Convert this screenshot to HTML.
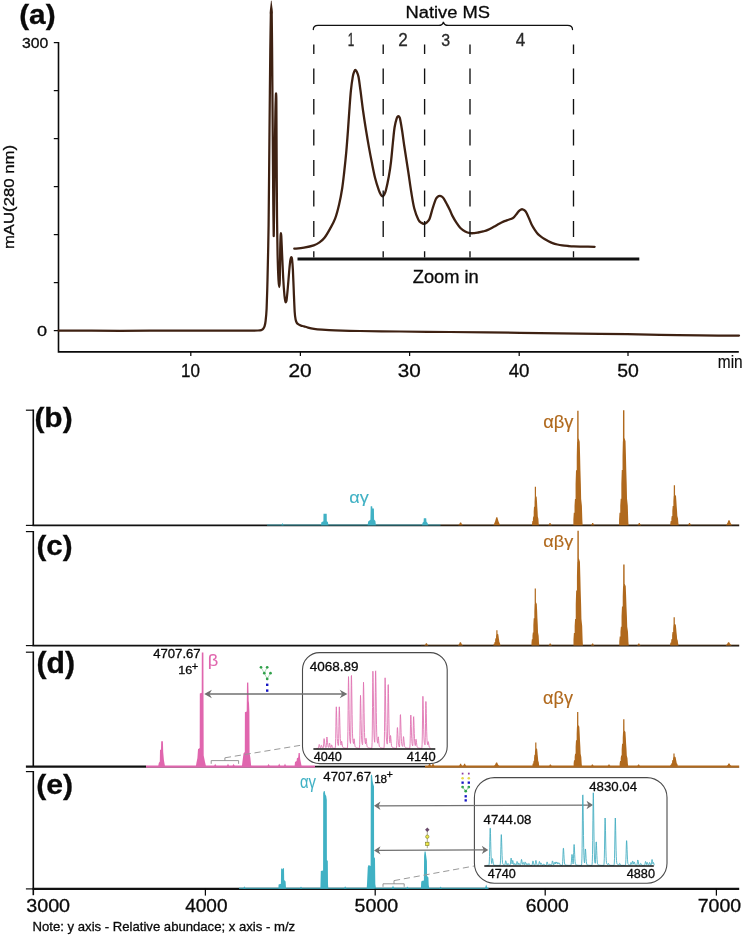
<!DOCTYPE html>
<html lang="en"><head><meta charset="utf-8"><title>Native MS figure</title>
<style>html,body{margin:0;padding:0;background:#fff}svg{display:block}text{font-family:'Liberation Sans', Arial, Helvetica, sans-serif}</style></head><body>
<svg width="742" height="935" viewBox="0 0 742 935">
<rect width="742" height="935" fill="#fff"/>
<g id="panel-a">
<path d="M58.5 42.0V351.9H738.8" fill="none" stroke="#0a0a0a" stroke-width="1.6"/>
<line x1="53.8" y1="42.6" x2="58.5" y2="42.6" stroke="#0a0a0a" stroke-width="1.25"/>
<line x1="53.8" y1="90.6" x2="58.5" y2="90.6" stroke="#0a0a0a" stroke-width="1.25"/>
<line x1="53.8" y1="138.6" x2="58.5" y2="138.6" stroke="#0a0a0a" stroke-width="1.25"/>
<line x1="53.8" y1="186.6" x2="58.5" y2="186.6" stroke="#0a0a0a" stroke-width="1.25"/>
<line x1="53.8" y1="234.6" x2="58.5" y2="234.6" stroke="#0a0a0a" stroke-width="1.25"/>
<line x1="53.8" y1="282.6" x2="58.5" y2="282.6" stroke="#0a0a0a" stroke-width="1.25"/>
<line x1="53.8" y1="330.6" x2="58.5" y2="330.6" stroke="#0a0a0a" stroke-width="1.25"/>
<line x1="190.8" y1="351.9" x2="190.8" y2="356" stroke="#0a0a0a" stroke-width="1.25"/>
<line x1="300.4" y1="351.9" x2="300.4" y2="356" stroke="#0a0a0a" stroke-width="1.25"/>
<line x1="409.6" y1="351.9" x2="409.6" y2="356" stroke="#0a0a0a" stroke-width="1.25"/>
<line x1="519.2" y1="351.9" x2="519.2" y2="356" stroke="#0a0a0a" stroke-width="1.25"/>
<line x1="628" y1="351.9" x2="628" y2="356" stroke="#0a0a0a" stroke-width="1.25"/>
<text font-size="15.07" fill="#0a0a0a" stroke="#0a0a0a" stroke-width="0.3" transform="translate(21.97 48.05) scale(1.0475 1)">300</text>
<text font-size="15.49" fill="#0a0a0a" stroke="#0a0a0a" stroke-width="0.3" transform="translate(36.98 336.15) scale(1.1699 1)">0</text>
<text font-size="18.31" fill="#0a0a0a" stroke="#0a0a0a" stroke-width="0.3" transform="translate(181.03 377.02) scale(0.9285 1)">10</text>
<text font-size="18.31" fill="#0a0a0a" stroke="#0a0a0a" stroke-width="0.3" transform="translate(288.46 377.02) scale(1.1403 1)">20</text>
<text font-size="18.31" fill="#0a0a0a" stroke="#0a0a0a" stroke-width="0.3" transform="translate(397.87 377.02) scale(1.1292 1)">30</text>
<text font-size="18.31" fill="#0a0a0a" stroke="#0a0a0a" stroke-width="0.3" transform="translate(508.63 377.02) scale(1.0198 1)">40</text>
<text font-size="18.31" fill="#0a0a0a" stroke="#0a0a0a" stroke-width="0.3" transform="translate(617.22 377.02) scale(1.0606 1)">50</text>
<text font-size="17.93" fill="#0a0a0a" stroke="#0a0a0a" stroke-width="0.15" transform="translate(717.79 368.2) scale(0.8629 1)">min</text>
<text font-size="14.87" fill="#0a0a0a" stroke="#0a0a0a" stroke-width="0.3" transform="rotate(-90) translate(-249.09 13.58) scale(1.1257 1)">mAU(280 nm)</text>
<text font-size="27.59" fill="#0a0a0a" stroke="#0a0a0a" stroke-width="0.3" font-weight="bold" transform="translate(19.21 23.61) scale(1.0792 1)">(a)</text>
<clipPath id="cut"><rect x="0" y="13" width="742" height="400"/></clipPath>
<path d="M58.6 330.6 C65.76 330.62 105.84 330.8 120 330.8 C134.16 330.8 166 330.61 180 330.6 C194 330.59 230.9 330.71 240 330.7 C249.1 330.69 255.49 330.58 258 330.5 C260.51 330.42 260.89 330.2 261.5 330 C262.11 329.8 262.84 329.24 263.2 328.8 C263.56 328.36 264.32 327.11 264.6 326.2 C264.88 325.29 265.37 323.01 265.6 321 C265.83 318.99 266.38 313.78 266.6 309 C266.82 304.22 267.27 289.8 267.5 280 C267.73 270.2 268.37 242.5 268.6 225 C268.83 207.5 269.3 150.42 269.5 130 C269.7 109.58 270.12 64.47 270.3 50 C270.48 35.53 270.88 11.66 271 6 C271.12 0.34 271.23 1.5 271.3 1.5 C271.37 1.5 271.51 0.34 271.6 6 C271.69 11.66 271.97 35.53 272.1 50 C272.23 64.47 272.56 111.92 272.7 130 C272.84 148.08 273.18 192.63 273.3 205 C273.42 217.37 273.61 235.42 273.7 236 C273.79 236.58 273.98 218.87 274.1 210 C274.22 201.13 274.55 171.43 274.7 160 C274.85 148.57 275.26 119.58 275.4 112 C275.54 104.42 275.82 97.1 275.9 95 C275.98 92.9 276.05 93.42 276.1 94 C276.15 94.58 276.29 93.47 276.35 100 C276.41 106.53 276.52 136.58 276.6 150 C276.68 163.42 276.88 202.75 277 215 C277.12 227.25 277.43 247.42 277.6 255 C277.78 262.58 278.3 276.27 278.5 280 C278.7 283.73 279.15 287 279.3 287 C279.45 287 279.69 284.32 279.8 280 C279.91 275.68 280.11 255.13 280.2 250 C280.29 244.87 280.52 237.98 280.6 236 C280.68 234.02 280.82 233 280.9 233 C280.98 233 281.17 233.78 281.3 236 C281.43 238.22 281.78 247.1 282 252 C282.22 256.9 282.91 272.87 283.2 278 C283.49 283.13 284.24 293.25 284.5 296 C284.76 298.75 285.24 300.88 285.4 301.6 C285.56 302.32 285.76 302.39 285.9 302.2 C286.04 302.01 286.38 301.66 286.6 300 C286.82 298.34 287.5 291.38 287.8 288 C288.1 284.62 288.91 274.21 289.2 271 C289.49 267.79 290.09 262.06 290.3 260.5 C290.51 258.94 290.86 257.96 291 257.6 C291.14 257.24 291.37 257.18 291.5 257.4 C291.63 257.62 291.94 258.03 292.1 259.5 C292.26 260.97 292.7 266.21 292.9 270 C293.1 273.79 293.59 287.1 293.8 292 C294.01 296.9 294.49 308.79 294.7 312 C294.91 315.21 295.36 318.24 295.6 319.5 C295.85 320.76 296.46 322.23 296.8 322.8 C297.14 323.37 298.01 324.07 298.5 324.4 C298.99 324.73 300.36 325.38 301 325.6 C301.64 325.82 303.18 326.07 304 326.3 C304.82 326.53 306.83 327.31 308 327.6 C309.17 327.89 312.37 328.57 314 328.8 C315.63 329.03 319.55 329.41 322 329.6 C324.45 329.79 330.57 330.24 335 330.4 C339.43 330.56 352.42 330.87 360 331 C367.58 331.13 389.5 331.38 400 331.5 C410.5 331.62 436 331.85 450 332 C464 332.15 502.5 332.59 520 332.8 C537.5 333.01 583.67 333.57 600 333.8 C616.33 334.03 648.33 334.61 660 334.8 C671.67 334.99 690.78 335.31 700 335.4 C709.22 335.49 734.45 335.58 739 335.6" fill="none" stroke="#3e2112" stroke-width="2.25" stroke-linejoin="round" stroke-linecap="round" clip-path="url(#cut)"/>
<polygon points="269.6,13.2 270,9 271,1.2 271.3,0.2 271.6,1.2 272.6,9 273,13.2" fill="#3e2112"/>
<path d="M294.3 248.7 C295.92 248.52 300.77 248.15 304 247.6 C307.23 247.05 311.12 246.27 313.7 245.4 C316.28 244.53 317.7 243.67 319.5 242.4 C321.3 241.13 322.75 240.05 324.5 237.8 C326.25 235.55 328.23 232.08 330 228.9 C331.77 225.72 333.58 222.77 335.1 218.7 C336.62 214.63 337.92 209.58 339.1 204.5 C340.28 199.42 341.35 193.62 342.2 188.2 C343.05 182.78 343.52 178.1 344.2 172 C344.88 165.9 345.68 158.38 346.3 151.6 C346.92 144.82 347.4 138.07 347.9 131.3 C348.4 124.53 348.8 117.77 349.3 111 C349.8 104.23 350.32 96.43 350.9 90.7 C351.48 84.97 352.25 79.78 352.8 76.6 C353.35 73.42 353.77 72.72 354.2 71.6 C354.63 70.48 354.97 69.87 355.4 69.9 C355.83 69.93 356.28 70.65 356.8 71.8 C357.32 72.95 357.88 73.65 358.5 76.8 C359.12 79.95 359.73 85 360.5 90.7 C361.27 96.4 362.15 104.23 363.1 111 C364.05 117.77 365.22 125.2 366.2 131.3 C367.18 137.4 368.08 142.52 369 147.6 C369.92 152.68 370.68 156.73 371.7 161.8 C372.72 166.87 373.92 173.27 375.1 178 C376.28 182.73 377.85 187.43 378.8 190.2 C379.75 192.97 380.2 193.58 380.8 194.6 C381.4 195.62 381.87 196.23 382.4 196.3 C382.93 196.37 383.42 196.02 384 195 C384.58 193.98 385.08 193.37 385.9 190.2 C386.72 187.03 388.05 180.73 388.9 176 C389.75 171.27 390.32 167.55 391 161.8 C391.68 156.05 392.4 147.27 393 141.5 C393.6 135.73 393.98 131.07 394.6 127.2 C395.22 123.33 396.12 120.12 396.7 118.3 C397.28 116.48 397.67 116.52 398.1 116.3 C398.53 116.08 398.97 116.53 399.3 117 C399.63 117.47 399.62 116.72 400.1 119.1 C400.58 121.48 401.52 126.9 402.2 131.3 C402.88 135.7 403.18 138.72 404.2 145.5 C405.22 152.28 407.12 164.2 408.3 172 C409.48 179.8 410.3 186.22 411.3 192.3 C412.3 198.38 413.12 203.93 414.3 208.5 C415.48 213.07 417.22 217.32 418.4 219.7 C419.58 222.08 420.45 222.12 421.4 222.8 C422.35 223.48 423.18 223.88 424.1 223.8 C425.02 223.72 425.98 223.15 426.9 222.3 C427.82 221.45 428.65 221 429.6 218.7 C430.55 216.4 431.58 211.72 432.6 208.5 C433.62 205.28 434.83 201.37 435.7 199.4 C436.57 197.43 437.12 197.28 437.8 196.7 C438.48 196.12 439.12 195.92 439.8 195.9 C440.48 195.88 441.23 196.15 441.9 196.6 C442.57 197.05 442.95 197.3 443.8 198.6 C444.65 199.9 445.95 202.4 447 204.4 C448.05 206.4 449.22 208.73 450.1 210.6 C450.98 212.47 451.25 213.6 452.3 215.6 C453.35 217.6 455.05 220.53 456.4 222.6 C457.75 224.67 458.93 226.52 460.4 228 C461.87 229.48 463.58 230.65 465.2 231.5 C466.82 232.35 468.57 232.83 470.1 233.1 C471.63 233.37 473.05 233.2 474.4 233.1 C475.75 233 476.73 232.78 478.2 232.5 C479.67 232.22 481.58 231.83 483.2 231.4 C484.82 230.97 486.13 230.67 487.9 229.9 C489.67 229.13 491.92 227.83 493.8 226.8 C495.68 225.77 497.6 224.57 499.2 223.7 C500.8 222.83 502.05 222.18 503.4 221.6 C504.75 221.02 506.07 220.63 507.3 220.2 C508.53 219.77 509.72 219.48 510.8 219 C511.88 218.52 512.87 218.1 513.8 217.3 C514.73 216.5 515.6 215.18 516.4 214.2 C517.2 213.22 517.9 212.15 518.6 211.4 C519.3 210.65 519.95 210.05 520.6 209.7 C521.25 209.35 521.83 209.18 522.5 209.3 C523.17 209.42 523.9 209.75 524.6 210.4 C525.3 211.05 525.93 211.8 526.7 213.2 C527.47 214.6 528.38 216.93 529.2 218.8 C530.02 220.67 530.67 222.57 531.6 224.4 C532.53 226.23 533.73 228.18 534.8 229.8 C535.87 231.42 536.92 232.93 538 234.1 C539.08 235.27 540.22 236 541.3 236.8 C542.38 237.6 543.3 238.17 544.5 238.9 C545.7 239.63 547.15 240.5 548.5 241.2 C549.85 241.9 551.12 242.55 552.6 243.1 C554.08 243.65 555.78 244.12 557.4 244.5 C559.02 244.88 560.53 245.15 562.3 245.4 C564.07 245.65 566.12 245.83 568 246 C569.88 246.17 570.93 246.3 573.6 246.4 C576.27 246.5 580.5 246.53 584 246.6 C587.5 246.67 592.83 246.77 594.6 246.8" fill="none" stroke="#3e2112" stroke-width="2.3" stroke-linejoin="round" stroke-linecap="round"/>
<line x1="297.5" y1="259" x2="639.3" y2="259" stroke="#111" stroke-width="3.2"/>
<path d="M313.8 44.5V54 M313.8 68.5V84 M313.8 99V114.5 M313.8 129.5V145.5 M313.8 160V176 M313.8 190.5V206.5 M313.8 221V237 M313.8 251.3V257.6" stroke="#111" stroke-width="1.35" fill="none"/>
<path d="M383.2 44.5V54 M383.2 68.5V84 M383.2 99V114.5 M383.2 129.5V145.5 M383.2 160V176 M383.2 190.5V206.5 M383.2 221V237 M383.2 251.3V257.6" stroke="#111" stroke-width="1.35" fill="none"/>
<path d="M424.6 44.5V54 M424.6 68.5V84 M424.6 99V114.5 M424.6 129.5V145.5 M424.6 160V176 M424.6 190.5V206.5 M424.6 221V237 M424.6 251.3V257.6" stroke="#111" stroke-width="1.35" fill="none"/>
<path d="M470 44.5V54 M470 68.5V84 M470 99V114.5 M470 129.5V145.5 M470 160V176 M470 190.5V206.5 M470 221V237 M470 251.3V257.6" stroke="#111" stroke-width="1.35" fill="none"/>
<path d="M573.5 44.5V54 M573.5 68.5V84 M573.5 99V114.5 M573.5 129.5V145.5 M573.5 160V176 M573.5 190.5V206.5 M573.5 221V237 M573.5 251.3V257.6" stroke="#111" stroke-width="1.35" fill="none"/>
<path d="M313.3 29.6C313.3 26.6 315 25.4 318 25.4H438.6C441.6 25.4 443 24.6 443.4 21.8C443.8 24.6 445.2 25.4 448.2 25.4H567.6C570.6 25.4 572.5 26.6 572.5 29.6" fill="none" stroke="#111" stroke-width="1.3" stroke-linecap="round"/>
<text font-size="16.46" fill="#0a0a0a" stroke="#0a0a0a" stroke-width="0.3" transform="translate(405.53 18.34) scale(1.1147 1)">Native MS</text>
<text font-size="17.55" fill="#0a0a0a" stroke="#0a0a0a" stroke-width="0.3" transform="translate(412.75 282.72) scale(1.0423 1)">Zoom in</text>
<text font-size="17.83" fill="#2a2a2a" stroke="#2a2a2a" stroke-width="0.3" transform="translate(347.72 45.7) scale(0.6577 1)">1</text>
<text font-size="17.57" fill="#2a2a2a" stroke="#2a2a2a" stroke-width="0.3" transform="translate(398.14 45.7) scale(0.9756 1)">2</text>
<text font-size="17.32" fill="#2a2a2a" stroke="#2a2a2a" stroke-width="0.3" transform="translate(441.16 45.53) scale(0.9236 1)">3</text>
<text font-size="17.83" fill="#2a2a2a" stroke="#2a2a2a" stroke-width="0.3" transform="translate(515.66 45.7) scale(0.9553 1)">4</text>
</g>
<g id="panel-b">
<path d="M25.9 410.2H33.6" fill="none" stroke="#0a0a0a" stroke-width="1.2"/>
<path d="M33.3 409.6V525.3" fill="none" stroke="#0a0a0a" stroke-width="1.6"/>
<line x1="25.9" y1="525.4" x2="33" y2="525.4" stroke="#111" stroke-width="1.2"/>
<line x1="32.5" y1="525.4" x2="739.2" y2="525.4" stroke="#111" stroke-width="1.8"/>
<rect x="267" y="524.2" width="173.6" height="1.65" fill="#40b1c4" opacity="0.5"/>
<rect x="440.6" y="524.2" width="298.6" height="1.65" fill="#b0691d" opacity="0.18"/>
<text font-size="28.56" fill="#0a0a0a" stroke="#0a0a0a" stroke-width="0.3" font-weight="bold" transform="translate(34.4 427.2) scale(1.0476 1)">(b)</text>
<polygon points="320.9,525.3 321.4,522.3 323.4,521.2 323.5,513.8 326.7,513.8 326.8,521.2 327.9,522 328.4,525.3" fill="#40b1c4"/>
<polygon points="367.6,525.3 368.2,521.6 370.4,519.8 370.7,506.2 372.2,506.2 372.4,508.4 373.9,508.6 374.1,519.6 375.4,521 375.9,525.3" fill="#40b1c4"/>
<polygon points="422,525.3 422.6,522.8 423.6,521.8 423.8,518.2 426.2,518.2 426.5,521.8 427.6,523 428.1,525.3" fill="#40b1c4"/>
<polygon points="281.4,525.3 282.6,523 283.6,525.3" fill="#40b1c4"/>
<text font-size="17.33" fill="#40b1c4" stroke="#40b1c4" stroke-width="0.1" transform="translate(349.17 502.76) scale(1.0479 1)">αγ</text>
<polygon points="458.4,525.3 459.5,523.85 460.05,522.4 461.15,522.4 461.7,523.85 462.8,525.3" fill="#b0691d"/>
<polygon points="493.5,525.3 495.15,521.25 496.25,517.2 497.35,517.2 498.45,521.25 500.1,525.3" fill="#b0691d"/>
<polygon points="531.51,525.3 532.05,525.3 532.05,523.38 532.36,521.06 532.91,521.06 532.91,518.75 533.22,516.44 533.69,516.44 533.69,511.44 534,506.82 534.54,506.82 534.54,502.2 534.78,497.19 534.8,497.19 534.8,496.04 534.8,486.8 536,486.8 536,496.04 536.72,497.19 537.04,502.2 537.27,506.82 537.58,511.44 537.81,516.44 538.36,518.75 538.52,521.06 538.67,523.38 538.91,525.3" fill="#b0691d"/>
<polygon points="572.64,525.3 573.37,525.3 573.37,519.57 573.79,512.7 574.53,512.7 574.53,505.83 574.95,498.96 575.58,498.96 575.58,484.08 576.01,470.34 576.74,470.34 576.74,456.6 577.06,441.71 577.16,441.71 577.16,438.28 577.22,410.8 578.58,410.8 578.64,438.28 579.69,441.71 580.11,456.6 580.43,470.34 580.85,484.08 581.16,498.96 581.9,505.83 582.11,512.7 582.32,519.57 582.64,525.3" fill="#b0691d"/>
<polygon points="618.33,525.3 619.08,525.3 619.08,519.54 619.51,512.64 620.26,512.64 620.26,505.73 620.69,498.83 621.34,498.83 621.34,483.86 621.77,470.05 622.52,470.05 622.52,456.24 622.84,441.28 622.95,441.28 622.95,437.82 623,410.2 624.4,410.2 624.45,437.82 625.53,441.28 625.95,456.24 626.28,470.05 626.71,483.86 627.03,498.83 627.78,505.73 627.99,512.64 628.21,519.54 628.53,525.3" fill="#b0691d"/>
<polygon points="669.66,525.3 670.33,525.3 670.33,523.29 670.71,520.89 671.37,520.89 671.37,518.48 671.75,516.08 672.32,516.08 672.32,510.86 672.69,506.05 673.36,506.05 673.36,501.24 673.64,496.03 673.74,496.03 673.74,494.82 673.78,485.2 675.02,485.2 675.06,494.82 676.01,496.03 676.39,501.24 676.67,506.05 677.05,510.86 677.34,516.08 678,518.48 678.19,520.89 678.38,523.29 678.66,525.3" fill="#b0691d"/>
<polygon points="726.1,525.3 727.55,522.8 728.45,520.3 729.55,520.3 730.45,522.8 731.9,525.3" fill="#b0691d"/>
<polygon points="590.9,525.3 591.8,524.2 592.15,523.1 593.25,523.1 593.6,524.2 594.5,525.3" fill="#b0691d"/>
<polygon points="637.5,525.3 638.4,524.2 638.75,523.1 639.85,523.1 640.2,524.2 641.1,525.3" fill="#b0691d"/>
<polygon points="548.2,525.3 549.1,524.2 549.45,523.1 550.55,523.1 550.9,524.2 551.8,525.3" fill="#b0691d"/>
<polygon points="687.7,525.3 688.6,524.2 688.95,523.1 690.05,523.1 690.4,524.2 691.3,525.3" fill="#b0691d"/>
<text font-size="17.54" fill="#b0691d" stroke="#b0691d" stroke-width="0.15" transform="translate(543.17 427.72) scale(1.0446 1)">αβγ</text>
</g>
<g id="panel-c">
<path d="M25.9 531.6H33.6" fill="none" stroke="#0a0a0a" stroke-width="1.2"/>
<path d="M33.3 531V645.5" fill="none" stroke="#0a0a0a" stroke-width="1.6"/>
<line x1="25.9" y1="645.6" x2="33" y2="645.6" stroke="#111" stroke-width="1.2"/>
<line x1="32.5" y1="645.6" x2="739.2" y2="645.6" stroke="#111" stroke-width="1.9"/>
<rect x="420.8" y="644.35" width="318.4" height="1.72" fill="#b0691d" opacity="0.18"/>
<text font-size="27.59" fill="#0a0a0a" stroke="#0a0a0a" stroke-width="0.3" font-weight="bold" transform="translate(36.52 555.41) scale(1.0695 1)">(c)</text>
<polygon points="424.4,645.5 425.4,644.4 425.85,643.3 426.95,643.3 427.4,644.4 428.4,645.5" fill="#b0691d"/>
<polygon points="457.9,645.5 459.15,643.9 459.85,642.3 460.95,642.3 461.65,643.9 462.9,645.5" fill="#b0691d"/>
<polygon points="492.9,645.5 493.46,645.5 493.46,644.74 493.78,643.82 494.34,643.82 494.34,642.9 494.66,641.98 495.14,641.98 495.14,639.99 495.46,638.16 496.02,638.16 496.02,636.32 496.26,634.33 496.3,634.33 496.3,633.87 496.3,630.2 497.5,630.2 497.5,633.87 498.26,634.33 498.58,636.32 498.82,638.16 499.14,639.99 499.38,641.98 499.94,642.9 500.1,643.82 500.26,644.74 500.5,645.5" fill="#b0691d"/>
<polygon points="530.88,645.5 531.5,645.5 531.5,642.65 531.85,639.24 532.47,639.24 532.47,635.83 532.82,632.41 533.35,632.41 533.35,625.02 533.71,618.19 534.33,618.19 534.33,611.36 534.59,603.96 534.68,603.96 534.68,602.26 534.7,588.6 535.9,588.6 535.92,602.26 536.8,603.96 537.16,611.36 537.42,618.19 537.78,625.02 538.04,632.41 538.66,635.83 538.84,639.24 539.01,642.65 539.28,645.5" fill="#b0691d"/>
<polygon points="572.73,645.5 573.48,645.5 573.48,639.76 573.91,632.88 574.66,632.88 574.66,626 575.09,619.12 575.74,619.12 575.74,604.21 576.17,590.44 576.92,590.44 576.92,576.68 577.24,561.77 577.35,561.77 577.35,558.33 577.4,530.8 578.8,530.8 578.85,558.33 579.93,561.77 580.35,576.68 580.68,590.44 581.11,604.21 581.43,619.12 582.18,626 582.39,632.88 582.61,639.76 582.93,645.5" fill="#b0691d"/>
<polygon points="618.53,645.5 619.28,645.5 619.28,641.44 619.71,636.58 620.46,636.58 620.46,631.71 620.89,626.85 621.54,626.85 621.54,616.3 621.97,606.57 622.72,606.57 622.72,596.84 623.04,586.3 623.15,586.3 623.15,583.86 623.2,564.4 624.6,564.4 624.65,583.86 625.73,586.3 626.15,596.84 626.48,606.57 626.91,616.3 627.23,626.85 627.98,631.71 628.19,636.58 628.41,641.44 628.73,645.5" fill="#b0691d"/>
<polygon points="669.46,645.5 670.13,645.5 670.13,644.09 670.51,642.39 671.17,642.39 671.17,640.69 671.55,638.99 672.12,638.99 672.12,635.31 672.49,631.92 673.16,631.92 673.16,628.52 673.44,624.84 673.54,624.84 673.54,623.99 673.58,617.2 674.82,617.2 674.86,623.99 675.81,624.84 676.19,628.52 676.47,631.92 676.85,635.31 677.14,638.99 677.8,640.69 677.99,642.39 678.18,644.09 678.46,645.5" fill="#b0691d"/>
<polygon points="725.6,645.5 727.1,643.9 728.05,642.3 729.15,642.3 730.1,643.9 731.6,645.5" fill="#b0691d"/>
<polygon points="548.5,645.5 549.35,644.5 549.65,643.5 550.75,643.5 551.05,644.5 551.9,645.5" fill="#b0691d"/>
<polygon points="590.9,645.5 591.75,644.5 592.05,643.5 593.15,643.5 593.45,644.5 594.3,645.5" fill="#b0691d"/>
<polygon points="637.1,645.5 637.95,644.5 638.25,643.5 639.35,643.5 639.65,644.5 640.5,645.5" fill="#b0691d"/>
<text font-size="17.33" fill="#b0691d" stroke="#b0691d" stroke-width="0.15" transform="translate(543.27 546.96) scale(1.0468 1)">αβγ</text>
</g>
<g id="panel-d">
<path d="M25.9 652.2H33.6" fill="none" stroke="#0a0a0a" stroke-width="1.2"/>
<path d="M33.3 651.6V766.2" fill="none" stroke="#0a0a0a" stroke-width="1.6"/>
<line x1="25.9" y1="766.6" x2="146" y2="766.6" stroke="#111" stroke-width="2.2"/>
<line x1="146" y1="766.6" x2="315" y2="766.6" stroke="#e066ae" stroke-width="2.2"/>
<rect x="146" y="767.1" width="169" height="0.6" fill="#000" opacity="0.3"/>
<line x1="315" y1="766.6" x2="425" y2="766.6" stroke="#111" stroke-width="1.8"/>
<line x1="425" y1="766.6" x2="739.2" y2="766.6" stroke="#b0691d" stroke-width="2.2"/>
<rect x="425" y="767.1" width="314.2" height="0.6" fill="#000" opacity="0.3"/>
<text font-size="28.66" fill="#0a0a0a" stroke="#0a0a0a" stroke-width="0.3" font-weight="bold" transform="translate(36.49 672.78) scale(1.0526 1)">(d)</text>
<polygon points="158.2,766.2 158.8,763 159.8,761.5 160,750 161,749.6 161.2,741.2 162.9,741.2 163.2,752 163.9,760 164.5,763.5 165,766.2" fill="#e066ae"/>
<polygon points="195.9,766.2 196.4,763 197.4,758 198,749.2 199.7,748 199.8,693.6 201.7,692.8 201.8,652.4 203.4,652.4 203.5,693 203.7,755.6 204.4,759 205,762 206,766.2" fill="#e066ae"/>
<polygon points="241.9,766.2 242.4,762 243.5,753.5 244.8,752 244.9,712.3 246.7,711.5 246.8,701 247,683 247.4,682.6 248.3,682.6 248.7,701 249,703 249.4,712 249.6,753 250.4,758 251.2,766.2" fill="#e066ae"/>
<polygon points="294.6,766.2 295,762 296.6,761 296.9,758.2 298.2,757.6 298.6,753 299.8,753 300.2,759 301,763 301.6,766.2" fill="#e066ae"/>
<polygon points="214,766.2 215.2,763.8 216.4,766.2" fill="#e066ae"/>
<polygon points="226.8,766.2 228,763.6 229.2,766.2" fill="#e066ae"/>
<polygon points="232.4,766.2 233.6,763.8 234.8,766.2" fill="#e066ae"/>
<polygon points="267.4,766.2 268.6,763.8 269.8,766.2" fill="#e066ae"/>
<polygon points="278,766.2 279.2,763.4 280.4,766.2" fill="#e066ae"/>
<polygon points="283.8,766.2 285,763.6 286.2,766.2" fill="#e066ae"/>
<text font-size="17.33" fill="#e066ae" stroke="#e066ae" stroke-width="0.1" transform="translate(207.72 666.36) scale(1.0550 1)">β</text>
<text font-size="12.11" fill="#0a0a0a" stroke="#0a0a0a" stroke-width="0.3" transform="translate(153.24 658.48) scale(1.0829 1)">4707.67</text>
<text font-size="11.55" fill="#0a0a0a" stroke="#0a0a0a" stroke-width="0.3" transform="translate(178.16 673.98) scale(1.0878 1)">16</text>
<text font-size="11.63" fill="#0a0a0a" stroke="#0a0a0a" stroke-width="0.3" transform="translate(191.74 669.65) scale(0.9571 1)">+</text>
<polygon points="427.9,766.2 428.75,765 429.05,763.8 430.15,763.8 430.45,765 431.3,766.2" fill="#b0691d"/>
<polygon points="431.3,766.2 432.15,765 432.45,763.8 433.55,763.8 433.85,765 434.7,766.2" fill="#b0691d"/>
<polygon points="458.9,766.2 459.75,765 460.05,763.8 461.15,763.8 461.45,765 462.3,766.2" fill="#b0691d"/>
<polygon points="462.9,766.2 463.75,765 464.05,763.8 465.15,763.8 465.45,765 466.3,766.2" fill="#b0691d"/>
<polygon points="493.8,766.2 495.2,764.4 496.05,762.6 497.15,762.6 498,764.4 499.4,766.2" fill="#b0691d"/>
<polygon points="531.91,766.2 532.45,766.2 532.45,765.02 532.76,763.6 533.31,763.6 533.31,762.19 533.62,760.77 534.09,760.77 534.09,757.7 534.4,754.87 534.94,754.87 534.94,752.04 535.18,748.97 535.2,748.97 535.2,748.26 535.2,742.6 536.4,742.6 536.4,748.26 537.12,748.97 537.44,752.04 537.67,754.87 537.98,757.7 538.21,760.77 538.76,762.19 538.92,763.6 539.07,765.02 539.31,766.2" fill="#b0691d"/>
<polygon points="572.96,766.2 573.63,766.2 573.63,763.49 574.01,760.24 574.67,760.24 574.67,756.99 575.05,753.73 575.62,753.73 575.62,746.69 575.99,740.18 576.66,740.18 576.66,733.68 576.94,726.63 577.04,726.63 577.04,725.01 577.08,712 578.32,712 578.36,725.01 579.31,726.63 579.69,733.68 579.97,740.18 580.35,746.69 580.64,753.73 581.3,756.99 581.49,760.24 581.68,763.49 581.96,766.2" fill="#b0691d"/>
<polygon points="618.96,766.2 619.64,766.2 619.64,763.86 620.02,761.04 620.7,761.04 620.7,758.23 621.09,755.41 621.67,755.41 621.67,749.32 622.06,743.69 622.73,743.69 622.73,738.06 623.03,731.96 623.12,731.96 623.12,730.56 623.17,719.3 624.43,719.3 624.48,730.56 625.45,731.96 625.83,738.06 626.12,743.69 626.51,749.32 626.8,755.41 627.48,758.23 627.67,761.04 627.87,763.86 628.16,766.2" fill="#b0691d"/>
<polygon points="669.58,766.2 670.2,766.2 670.2,765.57 670.55,764.8 671.17,764.8 671.17,764.04 671.52,763.28 672.05,763.28 672.05,761.63 672.41,760.1 673.03,760.1 673.03,758.58 673.29,756.93 673.38,756.93 673.38,756.55 673.4,753.5 674.6,753.5 674.62,756.55 675.5,756.93 675.86,758.58 676.12,760.1 676.48,761.63 676.74,763.28 677.36,764.04 677.54,764.8 677.71,765.57 677.98,766.2" fill="#b0691d"/>
<polygon points="726.5,766.2 727.75,764.9 728.45,763.6 729.55,763.6 730.25,764.9 731.5,766.2" fill="#b0691d"/>
<polygon points="548.9,766.2 549.65,765.3 549.85,764.4 550.95,764.4 551.15,765.3 551.9,766.2" fill="#b0691d"/>
<polygon points="590.9,766.2 591.65,765.3 591.85,764.4 592.95,764.4 593.15,765.3 593.9,766.2" fill="#b0691d"/>
<polygon points="607.5,766.2 608.25,765.3 608.45,764.4 609.55,764.4 609.75,765.3 610.5,766.2" fill="#b0691d"/>
<polygon points="637.1,766.2 637.85,765.3 638.05,764.4 639.15,764.4 639.35,765.3 640.1,766.2" fill="#b0691d"/>
<text font-size="17.54" fill="#b0691d" stroke="#b0691d" stroke-width="0.15" transform="translate(543.08 703.62) scale(1.0305 1)">αβγ</text>
<path d="M211.2 763.8V760.6H238.6V763.8M224.9 760.6V757.8" fill="none" stroke="#8a8a8a" stroke-width="0.9"/>
<path d="M224.9 757.8L303 744.9" fill="none" stroke="#9a9a9a" stroke-width="1" stroke-dasharray="6.2 3.8"/>
<rect x="302.5" y="652.6" width="144.7" height="111" rx="17" ry="17" fill="none" stroke="#4a4a4a" stroke-width="1.1"/>
<line x1="208" y1="694" x2="343.5" y2="694" stroke="#707070" stroke-width="1.3"/>
<polygon points="204.2,694 211.9,689.8 209.4,694 211.9,698.2" fill="#707070"/>
<polygon points="347.4,694 339.7,689.8 342.2,694 339.7,698.2" fill="#707070"/>
<path d="M261 667.3L264.3 673.2L267.2 678.9M267.2 667.3L264.3 673.2M270.5 673.2L267.2 678.9" fill="none" stroke="#7cc48a" stroke-width="0.6"/>
<circle cx="261" cy="667.3" r="1.35" fill="#2fa04a"/>
<circle cx="267.2" cy="667.3" r="1.35" fill="#2fa04a"/>
<circle cx="264.3" cy="673.2" r="1.35" fill="#2fa04a"/>
<circle cx="270.5" cy="673.2" r="1.35" fill="#2fa04a"/>
<circle cx="267.2" cy="678.9" r="1.35" fill="#2fa04a"/>
<rect x="266" y="683.6" width="2.4" height="2.4" fill="#1616c4"/>
<rect x="266" y="689.4" width="2.4" height="2.4" fill="#1616c4"/>
</g>
<g id="inset-d">
<polyline points="316.5,748.4 316.5,748.4 316.7,748.4 316.9,748.4 317.1,748.4 317.3,748.4 317.5,748.4 317.7,748.4 317.9,748.4 318.1,748.37 318.3,748.24 318.5,747.84 318.7,746.93 318.9,745.61 319.1,744.56 319.3,744.52 319.5,745.05 319.7,745.82 319.9,746.6 320.1,747.22 320.3,747.62 320.5,747.86 320.7,747.95 320.9,747.22 321.1,746.17 321.3,745.33 321.5,745.29 321.7,745.72 321.9,746.34 322.1,746.96 322.3,747.45 322.5,747.78 322.7,747.97 322.9,748.07 323.1,748.13 323.3,747.64 323.5,746.08 323.7,743.23 323.9,740.05 324.1,738.6 324.3,739.43 324.5,741.1 324.7,743.06 324.9,744.81 325.1,746.06 325.3,746.83 325.5,747.25 325.7,747.48 325.9,747.62 326.1,747.52 326.3,745.7 326.5,742.39 326.7,738.69 326.9,737 327.1,737.96 327.3,739.91 327.5,742.19 327.7,744.22 327.9,745.68 328.1,746.57 328.3,747.06 328.5,747.33 328.7,747.5 328.9,747.12 329.1,745.55 329.3,743.8 329.5,743 329.7,743.46 329.9,744.38 330.1,745.46 330.3,746.42 330.5,747.11 330.7,747.53 330.9,747.77 331.1,747.08 331.3,745.89 331.5,744.94 331.7,744.9 331.9,745.38 332.1,746.08 332.3,746.78 332.5,747.33 332.7,747.7 332.9,747.91 333.1,748.03 333.3,748.09 333.5,748.13 333.7,748.17 333.9,748.19 334.1,748.22 334.3,748.24 334.5,748.26 334.7,748.28 334.9,748.29 335.1,748.27 335.3,747.64 335.5,745.18 335.7,738.54 335.9,726.46 336.1,712.95 336.3,706.8 336.5,710.32 336.7,717.4 336.9,725.75 337.1,733.15 337.3,738.46 337.5,741.72 337.7,743.52 337.9,744.5 338.1,745.1 338.3,745.53 338.5,745.18 338.7,738.54 338.9,726.46 339.1,712.95 339.3,706.8 339.5,710.32 339.7,717.4 339.9,725.75 340.1,733.15 340.3,738.46 340.5,741.72 340.7,743.52 340.9,744.5 341.1,745.1 341.3,743.24 341.5,741.29 341.7,741.22 341.9,742.2 342.1,743.63 342.3,745.07 342.5,746.21 342.7,746.96 342.9,747.35 343.1,747.47 343.3,747.58 343.5,747.68 343.7,747.76 343.9,747.84 344.1,747.9 344.3,747.96 344.5,748.01 344.7,748.06 344.9,748.1 345.1,748.13 345.3,748.17 345.5,748.19 345.7,748.22 345.9,748.24 346.1,748.26 346.3,748.27 346.5,748.29 346.7,748.3 346.9,748.31 347.1,748.32 347.3,748.17 347.5,747.08 347.7,742.85 347.9,731.39 348.1,710.54 348.3,687.22 348.5,676.6 348.7,682.68 348.9,694.9 349.1,709.31 349.3,722.07 349.5,731.25 349.7,736.87 349.9,739.97 350.1,741.67 350.3,742.7 350.5,743.44 350.7,737.82 350.9,720.77 351.1,696 351.3,676.24 351.5,675.48 351.7,685.48 351.9,699.98 352.1,714.58 352.3,726.17 352.5,733.81 352.7,738.21 352.9,740.6 353.1,741.95 353.3,742.85 353.5,743.54 353.7,741.49 353.9,738.89 354.1,738.79 354.3,740.11 354.5,742.02 354.7,743.94 354.9,745.47 355.1,746.48 355.3,746.83 355.5,747.01 355.7,747.17 355.9,747.32 356.1,747.44 356.3,747.56 356.5,747.66 356.7,747.74 356.9,747.82 357.1,747.89 357.3,747.95 357.5,748 357.7,748.05 357.9,748.09 358.1,748.13 358.3,748.16 358.5,748.19 358.7,748.21 358.9,748.23 359.1,748.25 359.3,748.23 359.5,747.43 359.7,744.3 359.9,735.84 360.1,720.45 360.3,703.24 360.5,695.4 360.7,699.89 360.9,708.91 361.1,719.54 361.3,728.97 361.5,735.74 361.7,739.89 361.9,742.18 362.1,743.43 362.3,744.19 362.5,744.74 362.7,743.28 362.9,732.72 363.1,713.49 363.3,691.99 363.5,682.2 363.7,687.8 363.9,699.08 364.1,712.36 364.3,724.12 364.5,732.59 364.7,737.77 364.9,740.63 365.1,742.19 365.3,743.14 365.5,743.83 365.7,741.14 365.9,738.41 366.1,738.3 366.3,739.69 366.5,741.69 366.7,743.72 366.9,745.32 367.1,746.38 367.3,746.92 367.5,747.1 367.7,747.25 367.9,747.38 368.1,747.5 368.3,747.61 368.5,747.7 368.7,747.78 368.9,747.86 369.1,747.92 369.3,747.98 369.5,748.03 369.7,748.07 369.9,748.11 370.1,748.14 370.3,748.17 370.5,748.2 370.7,748.22 370.9,748.24 371.1,748.26 371.3,748.28 371.5,748.29 371.7,748.16 371.9,746.99 372.1,742.43 372.3,730.11 372.5,707.69 372.7,682.61 372.9,671.2 373.1,677.73 373.3,690.88 373.5,706.37 373.7,720.09 373.9,729.96 374.1,736 374.3,739.34 374.5,741.16 374.7,742.27 374.9,737.15 375.1,719.01 375.3,692.66 375.5,671.63 375.7,670.82 375.9,681.46 376.1,696.88 376.3,712.42 376.5,724.75 376.7,732.87 376.9,737.56 377.1,740.1 377.3,741.54 377.5,742.49 377.7,743.23 377.9,740.1 378.1,736.97 378.3,736.85 378.5,738.43 378.7,740.73 378.9,743.04 379.1,744.88 379.3,746.09 379.5,746.72 379.7,746.92 379.9,747.1 380.1,747.25 380.3,747.38 380.5,747.5 380.7,747.61 380.9,747.7 381.1,747.78 381.3,747.86 381.5,747.92 381.7,747.98 381.9,748.03 382.1,748.07 382.3,748.11 382.5,748.14 382.7,748.17 382.9,748.2 383.1,748.22 383.3,748.24 383.5,748.26 383.7,748.28 383.9,748.18 384.1,747.11 384.3,742.94 384.5,731.67 384.7,711.17 384.9,688.24 385.1,677.8 385.3,683.78 385.5,695.8 385.7,709.96 385.9,722.51 386.1,731.53 386.3,737.06 386.5,740.11 386.7,741.78 386.9,742.8 387.1,743.52 387.3,744.11 387.5,739.15 387.7,724.23 387.9,702.56 388.1,685.28 388.3,684.61 388.5,693.35 388.7,706.04 388.9,718.82 389.1,728.95 389.3,735.63 389.5,739.49 389.7,741.57 389.9,742.76 390.1,741.6 390.3,737.41 390.5,735.5 390.7,736.59 390.9,738.79 391.1,741.38 391.3,743.67 391.5,745.32 391.7,746.33 391.9,746.84 392.1,747.02 392.3,747.18 392.5,747.33 392.7,747.45 392.9,747.56 393.1,747.66 393.3,747.75 393.5,747.83 393.7,747.89 393.9,747.95 394.1,748.01 394.3,748.05 394.5,748.09 394.7,748.13 394.9,748.16 395.1,748.19 395.3,748.21 395.5,748.24 395.7,748.25 395.9,748.27 396.1,748.29 396.3,748.23 396.5,747.56 396.7,745.37 396.9,740.49 397.1,733.4 397.3,727.74 397.5,727.52 397.7,730.39 397.9,734.54 398.1,738.72 398.3,742.03 398.5,744.22 398.7,745.48 398.9,746.17 399.1,746.55 399.3,746.81 399.5,747.01 399.7,743.5 399.9,735.6 400.1,724.12 400.3,714.96 400.5,714.61 400.7,719.24 400.9,725.96 401.1,732.73 401.3,738.1 401.5,741.64 401.7,743.68 401.9,744.78 402.1,745.41 402.3,745.83 402.5,746.15 402.7,746.42 402.9,745.6 403.1,742.18 403.3,738.34 403.5,736.6 403.7,737.6 403.9,739.61 404.1,741.98 404.3,744.07 404.5,745.58 404.7,746.5 404.9,747.01 405.1,747.29 405.3,747.46 405.5,747.58 405.7,747.68 405.9,747.77 406.1,747.84 406.3,747.91 406.5,747.97 406.7,748.02 406.9,748.06 407.1,748.1 407.3,748.14 407.5,748.17 407.7,748.19 407.9,748.22 408.1,748.24 408.3,748.26 408.5,748.28 408.7,748.29 408.9,748.3 409.1,748.31 409.3,748.32 409.5,748.33 409.7,748.13 409.9,747.05 410.1,743.55 410.3,735.74 410.5,724.4 410.7,715.35 410.9,715 411.1,719.58 411.3,726.22 411.5,732.91 411.7,738.22 411.9,741.72 412.1,743.73 412.3,744.83 412.5,745.45 412.7,745.86 412.9,743.79 413.1,736.37 413.3,725.59 413.5,716.98 413.7,716.65 413.9,721 414.1,727.31 414.3,733.68 414.5,738.72 414.7,742.05 414.9,743.96 415.1,745 415.3,745.59 415.5,744.94 415.7,741.84 415.9,739.37 416.1,739.27 416.3,740.52 416.5,742.34 416.7,744.17 416.9,745.62 417.1,746.57 417.3,747.12 417.5,747.42 417.7,747.59 417.9,747.71 418.1,747.79 418.3,747.86 418.5,747.93 418.7,747.98 418.9,748.03 419.1,748.07 419.3,748.11 419.5,748.15 419.7,748.18 419.9,748.2 420.1,748.23 420.3,748.25 420.5,748.26 420.7,748.28 420.9,748.29 421.1,748.31 421.3,748.32 421.5,748.33 421.7,748.24 421.9,747.45 422.1,744.37 422.3,736.06 422.5,720.93 422.7,704 422.9,696.3 423.1,700.71 423.3,709.58 423.5,720.03 423.7,729.3 423.9,735.95 424.1,740.03 424.3,742.28 424.5,743.52 424.7,744.26 424.9,744.8 425.1,744.77 425.3,737.29 425.5,723.67 425.7,708.43 425.9,701.5 426.1,705.47 426.3,713.46 426.5,722.86 426.7,731.2 426.9,737.2 427.1,740.87 427.3,742.9 427.5,744 427.7,744.68 427.9,743.59 428.1,741.77 428.3,741.7 428.5,742.62 428.7,743.95 428.9,745.29 429.1,746.36 429.3,747.06 429.5,747.21 429.7,747.35 429.9,747.48 430.1,747.58 430.2,748.4" fill="#f6d3e6" fill-opacity="0.12" stroke="#e074b2" stroke-width="0.9" stroke-linejoin="round"/>
<line x1="313.4" y1="748.9" x2="435.3" y2="748.9" stroke="#111" stroke-width="1.5"/>
<text font-size="12.39" fill="#0a0a0a" stroke="#0a0a0a" stroke-width="0.3" transform="translate(313.75 761.38) scale(1.0187 1)">4040</text>
<text font-size="12.39" fill="#0a0a0a" stroke="#0a0a0a" stroke-width="0.3" transform="translate(406.84 761.38) scale(1.0448 1)">4140</text>
<text font-size="12.96" fill="#0a0a0a" stroke="#0a0a0a" stroke-width="0.3" transform="translate(309.83 670.87) scale(1.0413 1)">4068.89</text>
</g>
<g id="panel-e">
<path d="M25.9 771.6H33.6" fill="none" stroke="#0a0a0a" stroke-width="1.2"/>
<path d="M33.3 771V895.2" fill="none" stroke="#0a0a0a" stroke-width="1.6"/>
<line x1="25.9" y1="888.9" x2="33" y2="888.9" stroke="#111" stroke-width="1.2"/>
<line x1="32.5" y1="888.9" x2="739.2" y2="888.9" stroke="#111" stroke-width="2.3"/>
<rect x="239" y="887.7" width="249.6" height="1.08" fill="#40b1c4" opacity="1"/>
<line x1="205.4" y1="888.6" x2="205.4" y2="895.6" stroke="#0a0a0a" stroke-width="1.25"/>
<line x1="375.2" y1="888.6" x2="375.2" y2="895.6" stroke="#0a0a0a" stroke-width="1.25"/>
<line x1="545.2" y1="888.6" x2="545.2" y2="895.6" stroke="#0a0a0a" stroke-width="1.25"/>
<line x1="716.4" y1="888.6" x2="716.4" y2="895.6" stroke="#0a0a0a" stroke-width="1.25"/>
<text font-size="27.7" fill="#0a0a0a" stroke="#0a0a0a" stroke-width="0.3" font-weight="bold" transform="translate(36.19 794.08) scale(1.0878 1)">(e)</text>
<text font-size="17.89" fill="#0a0a0a" stroke="#0a0a0a" stroke-width="0.3" transform="translate(26.21 911.52) scale(1.1025 1)">3000</text>
<text font-size="17.89" fill="#0a0a0a" stroke="#0a0a0a" stroke-width="0.3" transform="translate(185.22 911.52) scale(1.0614 1)">4000</text>
<text font-size="17.89" fill="#0a0a0a" stroke="#0a0a0a" stroke-width="0.3" transform="translate(354.62 911.52) scale(1.0947 1)">5000</text>
<text font-size="17.89" fill="#0a0a0a" stroke="#0a0a0a" stroke-width="0.3" transform="translate(525.74 911.52) scale(1.0789 1)">6000</text>
<text font-size="17.89" fill="#0a0a0a" stroke="#0a0a0a" stroke-width="0.3" transform="translate(697.73 911.52) scale(1.0894 1)">7000</text>
<text font-size="13.05" fill="#0a0a0a" stroke="#0a0a0a" stroke-width="0.3" transform="translate(32.55 931.06) scale(1.0070 1)">Note: y axis - Relative abundace; x axis - m/z</text>
<polygon points="243.2,888.6 244.3,886.2 245.6,888.6" fill="#40b1c4"/>
<polygon points="278.4,888.6 278.6,884.5 280.9,883.8 281.1,869 281.9,868.3 282.4,869.6 282.9,868.3 284,868.3 284.2,880 285.6,881.5 286,888.6" fill="#40b1c4"/>
<polygon points="320.4,888.6 320.8,871 323.1,870.4 323.2,793 323.9,791 324.7,791 325.3,794.5 326.2,796 326.8,800 326.9,860 327.8,861 328,884 328.3,888.6" fill="#40b1c4"/>
<polygon points="366.7,888.6 367,884 367.8,867 368.6,865 370.6,866 370.8,776 371.2,774.7 372,774.7 372.6,781 373.2,784 374,786.5 374.1,857 375,858.5 375.3,884 376,888.6" fill="#40b1c4"/>
<polygon points="420.9,888.6 421.2,882.5 421.6,881 423.9,880.5 424.1,856 424.6,851.6 425.6,851.6 426.2,856 426.9,861 427.1,876 428.4,877.5 428.7,885 429.3,888.6" fill="#40b1c4"/>
<polygon points="391.7,888.6 393,885.4 394.3,888.6" fill="#40b1c4"/>
<polygon points="484.9,888.6 486.2,884.4 487.5,888.6" fill="#40b1c4"/>
<polygon points="299.7,888.6 301,886.4 302.3,888.6" fill="#40b1c4"/>
<polygon points="343.9,888.6 345.2,886.2 346.5,888.6" fill="#40b1c4"/>
<polygon points="406.1,888.6 407.4,886.4 408.7,888.6" fill="#40b1c4"/>
<polygon points="439.3,888.6 440.6,886.6 441.9,888.6" fill="#40b1c4"/>
<text font-size="17.47" fill="#40b1c4" stroke="#40b1c4" stroke-width="0.05" transform="translate(299.9 788.13) scale(0.8519 1)">αγ</text>
<text font-size="13.24" fill="#0a0a0a" stroke="#0a0a0a" stroke-width="0.3" transform="translate(323.34 780.77) scale(0.9971 1)">4707.67</text>
<text font-size="10.7" fill="#0a0a0a" stroke="#0a0a0a" stroke-width="0.3" transform="translate(374.13 782.89) scale(1.0891 1)">18</text>
<text font-size="11.43" fill="#0a0a0a" stroke="#0a0a0a" stroke-width="0.3" transform="translate(386.45 777.63) scale(0.9562 1)">+</text>
<path d="M383 886.8V883.8H404.2V886.8M394 883.8V880.6" fill="none" stroke="#8a8a8a" stroke-width="0.9"/>
<path d="M394 880.6L474.2 866" fill="none" stroke="#9a9a9a" stroke-width="1" stroke-dasharray="6.2 3.8"/>
<rect x="474.4" y="777.6" width="192.6" height="105.6" rx="20" ry="20" fill="none" stroke="#4a4a4a" stroke-width="1.1"/>
<line x1="377.5" y1="805.8" x2="589.5" y2="805.1" stroke="#707070" stroke-width="1.3"/>
<polygon points="374,805.8 380.5,801.6 378.6,805.8 380.5,810" fill="#707070"/>
<polygon points="593,805 586.5,800.8 588.4,805 586.5,809.2" fill="#707070"/>
<line x1="377.5" y1="850.4" x2="484.8" y2="849.9" stroke="#707070" stroke-width="1.3"/>
<polygon points="374,850.4 380.5,846.2 378.6,850.4 380.5,854.6" fill="#707070"/>
<polygon points="488.3,849.9 481.8,845.7 483.7,849.9 481.8,854.1" fill="#707070"/>
<rect x="461.75" y="772.7" width="1.7" height="1.8" fill="#8a3aa0"/>
<circle cx="462.6" cy="778.2" r="1.3" fill="#e6d84a"/>
<rect x="461.45" y="781.5" width="2.3" height="2.3" fill="#1616c4"/>
<circle cx="462.6" cy="787.1" r="1.35" fill="#2fa04a"/>
<rect x="467.95" y="772.7" width="1.7" height="1.8" fill="#8a3aa0"/>
<circle cx="468.8" cy="778.2" r="1.3" fill="#e6d84a"/>
<rect x="467.65" y="781.5" width="2.3" height="2.3" fill="#1616c4"/>
<circle cx="468.8" cy="787.1" r="1.35" fill="#2fa04a"/>
<path d="M462.6 787.1L465.7 791.2L468.8 787.1" fill="none" stroke="#5ab56e" stroke-width="0.7"/>
<circle cx="465.7" cy="791.2" r="1.35" fill="#2fa04a"/>
<rect x="464.55" y="795.15" width="2.3" height="2.3" fill="#1616c4"/>
<rect x="464.55" y="799.25" width="2.3" height="2.3" fill="#1616c4"/>
<line x1="427.3" y1="829.7" x2="427.3" y2="848.2" stroke="#6b6b4a" stroke-width="0.6"/>
<polygon points="427.3,827.5 429.5,829.7 427.3,831.9 425.1,829.7" fill="#6a4a6c"/>
<circle cx="427.3" cy="836.7" r="1.7" fill="#eee94a" stroke="#7a7a2a" stroke-width="0.6"/>
<rect x="425.6" y="842.2" width="3.4" height="3.4" fill="#eee94a" stroke="#7a7a2a" stroke-width="0.6"/>
</g>
<g id="inset-e">
<polyline points="486.5,865.4 486.5,865.4 486.7,865.4 486.9,865.4 487.1,865.4 487.3,865.4 487.5,865.4 487.7,865.4 487.9,865.4 488.1,865.4 488.3,865.4 488.5,865.39 488.7,865.35 488.9,865.15 489.1,864.35 489.3,861.96 489.5,856.5 489.7,847.23 489.9,836.17 490.1,828.32 490.3,828.18 490.5,833.5 490.7,841.53 490.9,849.66 491.1,856.06 491.3,860.18 491.5,862.42 491.7,863.52 491.9,863.07 492.1,861.17 492.3,859.36 492.5,858.6 492.7,859.16 492.9,860.41 493.1,861.9 493.3,863.22 493.5,864.15 493.7,864.7 493.9,864.99 494.1,865.12 494.3,865.18 494.5,865.22 494.7,865.25 494.9,865.27 495.1,865.29 495.3,865.31 495.5,865.32 495.7,865.33 495.9,865.34 496.1,865.35 496.3,865.36 496.5,865.36 496.7,865.37 496.9,865.37 497.1,865.38 497.3,865.38 497.5,865.38 497.7,865.39 497.9,865.39 498.1,865.39 498.3,865.39 498.5,865.39 498.7,865.39 498.9,865.39 499.1,865.39 499.3,865.4 499.5,865.4 499.7,865.38 499.9,865.31 500.1,864.97 500.3,863.82 500.5,860.8 500.7,854.84 500.9,846.26 501.1,838.05 501.3,834.6 501.5,837.14 501.7,842.78 501.9,849.54 502.1,855.52 502.3,859.75 502.5,862.25 502.7,863.52 502.9,864.13 503.1,864.42 503.3,864.59 503.5,864.72 503.7,864.82 503.9,864.9 504.1,864.97 504.3,865.03 504.5,865.08 504.7,865.13 504.9,864.79 505.1,863.94 505.3,862.67 505.5,861.37 505.7,860.71 505.9,861 506.1,861.81 506.3,862.84 506.5,863.78 506.7,864.47 506.9,864.88 507.1,865.09 507.3,864.97 507.5,864.5 507.7,863.92 507.9,863.48 508.1,863.44 508.3,863.7 508.5,864.11 508.7,864.54 508.9,864.88 509.1,865.11 509.3,865.24 509.5,865.3 509.7,865.33 509.9,865.31 510.1,865.06 510.3,864.39 510.5,863.03 510.7,861 510.9,858.98 511.1,858.01 511.3,858.52 511.5,859.82 511.7,861.44 511.9,862.91 512.1,863.9 512.3,862.56 512.5,861.16 512.7,860.42 512.9,860.69 513.1,861.54 513.3,862.63 513.5,863.64 513.7,864.38 513.9,864.83 514.1,864.85 514.3,864.33 514.5,863.76 514.7,863.42 514.9,863.49 515.1,863.81 515.3,864.24 515.5,864.66 515.7,864.97 515.9,865.16 516.1,865.12 516.3,864.64 516.5,863.76 516.7,862.61 516.9,861.65 517.1,861.44 517.3,861.89 517.5,862.69 517.7,863.56 517.9,864.28 518.1,864.77 518.3,864.21 518.5,863.49 518.7,862.97 518.9,862.96 519.1,863.31 519.3,863.84 519.5,864.37 519.7,864.79 519.9,865.06 520.1,865.2 520.3,865.28 520.5,865.09 520.7,864.49 520.9,863.31 521.1,861.64 521.3,860.05 521.5,859.4 521.7,859.91 521.9,861.02 522.1,862.34 522.3,863.49 522.5,864.31 522.7,864.17 522.9,863.31 523.1,862.59 523.3,862.43 523.5,862.77 523.7,863.37 523.9,864.02 524.1,864.56 524.3,864.93 524.5,864.34 524.7,863.4 524.9,862.43 525.1,861.91 525.3,862.11 525.5,862.7 525.7,863.47 525.9,864.17 526.1,864.69 526.3,864.68 526.5,864.12 526.7,863.6 526.9,863.4 527.1,863.58 527.3,863.96 527.5,864.4 527.7,864.78 527.9,865.05 528.1,865.11 528.3,864.73 528.5,864.18 528.7,863.64 528.9,863.4 529.1,863.55 529.3,863.91 529.5,864.35 529.7,864.74 529.9,865.02 530.1,865.19 530.3,865.28 530.5,865.32 530.7,865.34 530.9,865.35 531.1,865.36 531.3,865.36 531.5,865.37 531.7,865.36 531.9,865.23 532.1,864.88 532.3,864.13 532.5,862.94 532.7,861.67 532.9,860.94 533.1,861.12 533.3,861.85 533.5,862.83 533.7,863.75 533.9,864.44 534.1,864.87 534.3,865.09 534.5,865.2 534.7,865.25 534.9,865.17 535.1,864.71 535.3,863.78 535.5,862.41 535.7,861.05 535.9,860.4 536.1,860.76 536.3,861.64 536.5,862.74 536.7,863.73 536.9,864.44 537.1,864.86 537.3,865.08 537.5,865.19 537.7,865.24 537.9,865.27 538.1,865.29 538.3,865.3 538.5,865.08 538.7,864.55 538.9,863.61 539.1,862.45 539.3,861.57 539.5,861.47 539.7,861.99 539.9,862.81 540.1,863.67 540.3,864.36 540.5,864.34 540.7,863.62 540.9,863.04 541.1,862.93 541.3,863.23 541.5,863.73 541.7,864.28 541.9,864.72 542.1,865.02 542.3,865.18 542.5,865.27 542.7,865.31 542.9,865.21 543.1,864.94 543.3,864.54 543.5,864.12 543.7,863.9 543.9,863.99 544.1,864.25 544.3,864.57 544.5,864.88 544.7,865.1 544.9,865.23 545.1,865.3 545.3,865.33 545.5,865.35 545.7,865.36 545.9,865.35 546.1,865.22 546.3,864.88 546.5,864.21 546.7,863.24 546.9,862.3 547.1,861.9 547.3,862.18 547.5,862.82 547.7,863.59 547.9,864.27 548.1,864.75 548.3,865.04 548.5,865.19 548.7,865.25 548.9,865.26 549.1,865.05 549.3,864.68 549.5,864.25 549.7,863.94 549.9,863.94 550.1,864.15 550.3,864.47 550.5,864.79 550.7,865.04 550.9,865.2 551.1,865.28 551.3,865.33 551.5,865.16 551.7,864.71 551.9,863.82 552.1,862.56 552.3,861.37 552.5,860.9 552.7,861.29 552.9,862.13 553.1,863.11 553.3,863.98 553.5,864.59 553.7,864.95 553.9,864.42 554.1,863.6 554.3,862.78 554.5,862.4 554.7,862.62 554.9,863.15 555.1,863.81 555.3,864.03 555.5,863.03 555.7,862.16 555.9,861.92 556.1,862.29 556.3,862.97 556.5,862.52 556.7,862.46 556.9,862.85 557.1,863.47 557.3,864.11 557.5,863.47 557.7,862.69 557.9,862.41 558.1,862.68 558.3,862.93 558.5,863.23 558.7,863.74 558.9,863.6 559.1,863.03 559.3,862.93 559.5,863.24 559.7,863.75 559.9,864.29 560.1,864.73 560.3,865.02 560.5,865.19 560.7,865.27 560.9,865.31 561.1,865.33 561.3,865.34 561.5,865.35 561.7,865.36 561.9,865.36 562.1,865.28 562.3,864.92 562.5,863.82 562.7,861.3 562.9,857.03 563.1,851.93 563.3,848.32 563.5,848.25 563.7,850.7 563.9,854.4 564.1,858.15 564.3,861.1 564.5,862.99 564.7,864.03 564.9,864.53 565.1,864.77 565.3,864.9 565.5,864.98 565.7,865.04 565.9,865.09 566.1,865.14 566.3,865.17 566.5,865.21 566.7,865.23 566.9,865.26 567.1,865.28 567.3,865.29 567.5,865.31 567.7,865.32 567.9,865.33 568.1,865.34 568.3,865.35 568.5,865.36 568.7,865.36 568.9,865.37 569.1,865.37 569.3,865.38 569.5,865.38 569.7,865.38 569.9,865.39 570.1,865.39 570.3,865.39 570.5,865.39 570.7,865.33 570.9,865.09 571.1,864.39 571.3,862.79 571.5,860.07 571.7,856.83 571.9,854.53 572.1,854.49 572.3,856.05 572.5,858.4 572.7,860.79 572.9,862.66 573.1,863.87 573.3,862.28 573.5,858.23 573.7,852.41 573.9,846.84 574.1,844.5 574.3,846.22 574.5,850.05 574.7,854.64 574.9,858.69 575.1,861.57 575.3,863.26 575.5,864.13 575.7,864.54 575.9,864.74 576.1,864.85 576.3,864.94 576.5,865 576.7,865.06 576.9,865.11 577.1,865.15 577.3,865.19 577.5,865.22 577.7,865.24 577.9,865.27 578.1,865.28 578.3,865.3 578.5,865.32 578.7,865.33 578.9,865.34 579.1,865.35 579.3,865.35 579.5,865.36 579.7,865.37 579.9,865.37 580.1,865.38 580.3,865.38 580.5,865.38 580.7,865.38 580.9,865.39 581.1,865.39 581.3,865.31 581.5,864.92 581.7,863.42 581.9,858.88 582.1,848.53 582.3,830.97 582.5,810 582.7,795.12 582.9,794.86 583.1,804.94 583.3,820.15 583.5,835.57 583.7,847.7 583.9,855.5 584.1,859.76 584.3,861.83 584.5,862.81 584.7,861.49 584.9,857.41 585.1,852.54 585.3,849.09 585.5,849.03 585.7,851.37 585.9,854.9 586.1,858.48 586.3,861.29 586.5,863.1 586.7,864.09 586.9,864.57 587.1,864.8 587.3,864.92 587.5,865 587.7,865.06 587.9,865.11 588.1,865.15 588.3,865.18 588.5,865.21 588.7,865.24 588.9,865.26 589.1,865.28 589.3,865.3 589.5,865.31 589.7,865.33 589.9,865.34 590.1,865.35 590.3,865.35 590.5,865.36 590.7,865.37 590.9,865.37 591.1,865.37 591.3,865.38 591.5,865.38 591.7,865.36 591.9,865.19 592.1,864.4 592.3,861.69 592.5,854.57 592.7,840.5 592.9,820.28 593.1,800.94 593.3,792.8 593.5,798.79 593.7,812.07 593.9,828.01 594.1,842.1 594.3,852.08 594.5,857.97 594.7,860.98 594.9,862.4 595.1,863.1 595.3,863.23 595.5,859.78 595.7,853.94 595.9,846.96 596.1,842.01 596.3,841.92 596.5,845.28 596.7,850.34 596.9,855.47 597.1,859.51 597.3,862.1 597.5,863.52 597.7,864.21 597.9,864.54 598.1,864.71 598.3,864.82 598.5,864.91 598.7,864.98 598.9,865.04 599.1,865.09 599.3,865.13 599.5,865.17 599.7,865.2 599.9,865.23 600.1,865.26 600.3,865.28 600.5,865.29 600.7,865.31 600.9,865.32 601.1,865.33 601.3,865.34 601.5,865.35 601.7,865.36 601.9,865.36 602.1,865.37 602.3,865.37 602.5,865.38 602.7,865.38 602.9,865.38 603.1,865.39 603.3,865.39 603.5,865.38 603.7,865.26 603.9,864.74 604.1,862.97 604.3,858.33 604.5,849.14 604.7,835.94 604.9,823.31 605.1,818 605.3,821.91 605.5,830.58 605.7,840.99 605.9,850.19 606.1,856.7 606.3,860.55 606.5,862.51 606.7,863.44 606.9,863.9 607.1,864.16 607.3,864.35 607.5,864.5 607.7,864.63 607.9,864.37 608.1,863.8 608.3,863.43 608.5,863.48 608.7,863.78 608.9,864.21 609.1,864.63 609.3,864.95 609.5,865.15 609.7,865.23 609.9,865.26 610.1,865.28 610.3,865.3 610.5,865.31 610.7,865.32 610.9,865.33 611.1,865.34 611.3,865.35 611.5,865.36 611.7,865.36 611.9,865.37 612.1,865.37 612.3,865.38 612.5,865.38 612.7,865.38 612.9,865.39 613.1,865.39 613.3,865.39 613.5,865.39 613.7,865.38 613.9,865.26 614.1,864.74 614.3,862.97 614.5,858.33 614.7,849.14 614.9,835.94 615.1,823.31 615.3,818 615.5,821.91 615.7,830.58 615.9,840.99 616.1,850.19 616.3,856.7 616.5,860.55 616.7,862.51 616.9,863.44 617.1,863.9 617.3,864.16 617.5,864.35 617.7,864.5 617.9,864.63 618.1,864.74 618.3,864.83 618.5,864.91 618.7,864.98 618.9,865.04 619.1,864.7 619.3,864.14 619.5,863.61 619.7,863.4 619.9,863.57 620.1,863.94 620.3,864.38 620.5,864.77 620.7,865.04 620.9,865.2 621.1,865.28 621.3,865.32 621.5,865.34 621.7,865.35 621.9,865.36 622.1,865.36 622.3,865.37 622.5,865.37 622.7,865.38 622.9,865.38 623.1,865.38 623.3,865.39 623.5,865.39 623.7,865.39 623.9,865.39 624.1,865.39 624.3,865.39 624.5,865.39 624.7,865.39 624.9,865.4 625.1,865.37 625.3,865.23 625.5,864.7 625.7,863.11 625.9,859.48 626.1,853.32 626.3,845.96 626.5,840.74 626.7,840.65 626.9,844.19 627.1,849.53 627.3,854.94 627.5,859.19 627.7,861.93 627.9,863.42 628.1,864.15 628.3,864.49 628.5,864.67 628.7,864.79 628.9,864.88 629.1,864.95 629.3,865.02 629.5,865.07 629.7,865.12 629.9,865.16 630.1,865.15 630.3,864.74 630.5,864.04 630.7,863.17 630.9,862.52 631.1,862.46 631.3,862.85 631.5,863.48 631.7,864.12 631.9,864.49 632.1,863.46 632.3,862.16 632.5,861.13 632.7,860.96 632.9,861.51 633.1,862.43 633.3,863.4 633.5,864.2 633.7,863.97 633.9,862.97 634.1,862.13 634.3,861.93 634.5,862.32 634.7,863.02 634.9,863.78 635.1,864.42 635.3,864.85 635.5,865.09 635.7,865.21 635.9,865.27 636.1,865.29 636.3,865.31 636.5,865.33 636.7,865.26 636.9,864.93 637.1,864.16 637.3,862.84 637.5,861.25 637.7,860.09 637.9,860.02 638.1,860.77 638.3,861.92 638.5,863.09 638.7,864.03 638.9,864.63 639.1,864.96 639.3,865.12 639.5,865.2 639.7,865.24 639.9,865.13 640.1,864.76 640.3,864.21 640.5,863.67 640.7,863.4 640.9,863.54 641.1,863.89 641.3,864.33 641.5,864.73 641.7,865.01 641.9,865.18 642.1,865.27 642.3,865.31 642.5,865.34 642.7,865.35 642.9,865.35 643.1,865.36 643.3,865.37 643.5,865.37 643.7,865.38 643.9,865.38 644.1,865.38 644.3,865.37 644.5,865.27 644.7,864.98 644.9,864.35 645.1,863.33 645.3,862.18 645.5,861.46 645.7,861.56 645.9,862.17 646.1,863.03 646.3,863.86 646.5,864.5 646.7,863.92 646.9,863.06 647.1,862.47 647.3,862.49 647.5,862.93 647.7,863.56 647.9,864.2 648.1,864.69 648.3,865 648.5,865.17 648.7,865.15 648.9,864.74 649.1,864.03 649.3,863.16 649.5,862.51 649.7,862.46 649.9,862.86 650.1,863.48 650.3,864.12 650.5,864.64 650.7,864.97 650.9,865.16 651.1,864.97 651.3,864.22 651.5,862.88 651.7,861.15 651.9,859.74 652.1,859.47 652.3,860.17 652.5,861.38 652.7,862.69 652.9,863.69 653.1,862.85 653.3,862.41 653.5,862.58 653.7,863.09 653.9,863.74 654.1,864.35 654,865.4" fill="#cdeaf0" fill-opacity="0.12" stroke="#3fabbf" stroke-width="0.85" stroke-linejoin="round"/>
<line x1="484.3" y1="865.9" x2="653.8" y2="865.9" stroke="#111" stroke-width="1.5"/>
<text font-size="12.54" fill="#0a0a0a" stroke="#0a0a0a" stroke-width="0.3" transform="translate(487.85 878.37) scale(1.0036 1)">4740</text>
<text font-size="12.54" fill="#0a0a0a" stroke="#0a0a0a" stroke-width="0.3" transform="translate(626.75 878.37) scale(1.0110 1)">4880</text>
<text font-size="12.68" fill="#0a0a0a" stroke="#0a0a0a" stroke-width="0.3" transform="translate(483.54 824.17) scale(1.0452 1)">4744.08</text>
<text font-size="12.68" fill="#0a0a0a" stroke="#0a0a0a" stroke-width="0.3" transform="translate(589.13 791.07) scale(1.0467 1)">4830.04</text>
</g>
</svg></body></html>
